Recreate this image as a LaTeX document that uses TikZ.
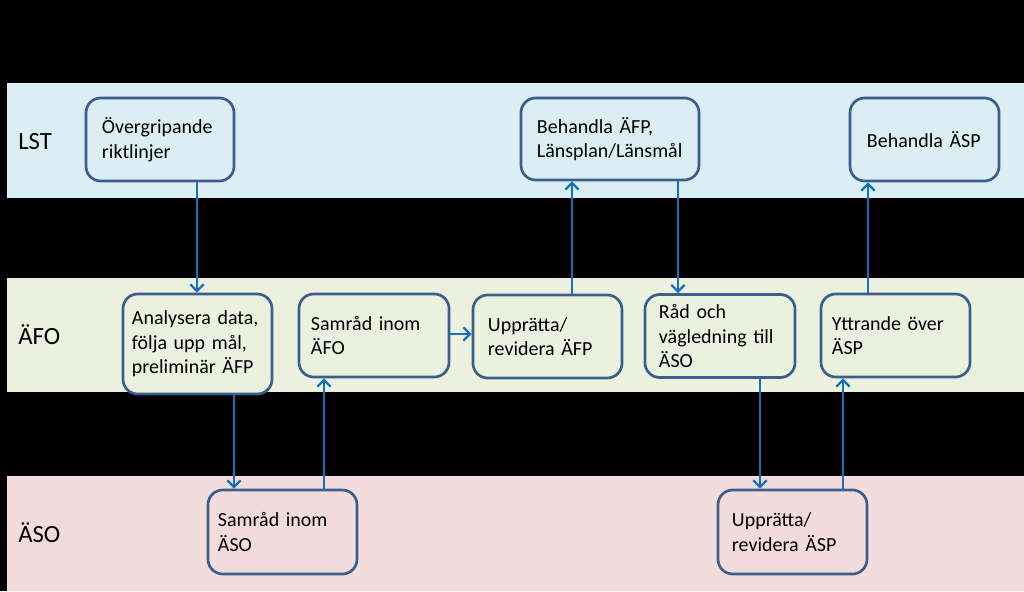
\documentclass[tikz,border=0pt]{standalone}
\usepackage{fontspec}
\setmainfont{Carlito}
\usetikzlibrary{arrows.meta}
\definecolor{lstband}{HTML}{DBEEF4}
\definecolor{afoband}{HTML}{EBF1DE}
\definecolor{asoband}{HTML}{F2DCDB}
\definecolor{boxborder}{HTML}{3B5E8C}
\definecolor{arrowblue}{HTML}{1470C0}
\begin{document}
\begin{tikzpicture}[x=0.025cm,y=-0.025cm,
  box/.style={draw=boxborder, line width=1.9pt, rounded corners=10.5pt,
    align=left, inner xsep=0pt, inner ysep=0pt,
    font=\fontsize{14.2}{17.4}\selectfont},
  lab/.style={anchor=west, inner sep=0pt, font=\fontsize{17.6}{20}\selectfont},
  arr/.style={draw=arrowblue, line width=1.6pt, -{Straight Barb[length=4.8pt,width=9.5pt]}}]
% background and bands
\fill[black] (0,0) rectangle (1024,591);
\fill[lstband] (7,83) rectangle (1024,198);
\fill[afoband] (7,278) rectangle (1024,392);
\fill[asoband] (7,476) rectangle (1024,591);
% lane labels
\node[lab] (lst) at (18,142) {LST};
\node[lab] (afo) at (18,335) {ÄFO};
\node[lab] (aso) at (18,533) {ÄSO};
% boxes
\node[box, fill=lstband, minimum width=3.7cm, minimum height=2.075cm, text width=2.9cm] (ovg) at (160,139.5) {Övergripande\\riktlinjer};
\node[box, fill=lstband, minimum width=4.45cm, minimum height=2.05cm, text width=3.65cm] (bfp) at (610,139) {Behandla~ÄFP,\\Länsplan/Länsmål};
\node[box, fill=lstband, minimum width=3.725cm, minimum height=2.075cm, text width=2.875cm] (bsp) at (924.5,139.5) {Behandla~ÄSP};
\node[box, fill=afoband, minimum width=3.725cm, minimum height=2.5cm, text width=3.275cm] (ana) at (197.5,344) {Analysera~data,\\följa~upp~mål,\\preliminär~ÄFP};
\node[box, fill=afoband, minimum width=3.75cm, minimum height=2.075cm, text width=3.15cm] (sfo) at (374,335.5) {Samråd~inom\\ÄFO};
\node[box, fill=afoband, minimum width=3.725cm, minimum height=2.075cm, text width=2.975cm] (ufp) at (547.5,336.5) {Upprätta/\\revidera~ÄFP};
\node[box, fill=afoband, minimum width=3.75cm, minimum height=2.075cm, text width=3.05cm] (rad) at (720,336) {Råd~och\\vägledning~till\\ÄSO};
\node[box, fill=afoband, minimum width=3.725cm, minimum height=2.075cm, text width=3.175cm] (ytt) at (895.5,335.5) {Yttrande~över\\ÄSP};
\node[box, fill=asoband, minimum width=3.725cm, minimum height=2.1cm, text width=3.225cm] (sso) at (282.5,532) {Samråd~inom\\ÄSO};
\node[box, fill=asoband, minimum width=3.725cm, minimum height=2.1cm, text width=3.025cm] (usp) at (792.5,532) {Upprätta/\\revidera~ÄSP};
% connector x positions
\coordinate (x1) at (197,0);
\coordinate (x2) at (234,0);
\coordinate (x3) at (324,0);
\coordinate (x5) at (572,0);
\coordinate (x6) at (678,0);
\coordinate (x7) at (760,0);
\coordinate (x8) at (843,0);
\coordinate (x9) at (868,0);
\coordinate (y4) at (0,334);
% connectors
\draw[arr] (ovg.south -| x1) -- (ana.north -| x1);
\draw[arr] (ana.south -| x2) -- (sso.north -| x2);
\draw[arr] (sso.north -| x3) -- (sfo.south -| x3);
\draw[arr] (sfo.east |- y4) -- (ufp.west |- y4);
\draw[arr] (ufp.north -| x5) -- (bfp.south -| x5);
\draw[arr] (bfp.south -| x6) -- (rad.north -| x6);
\draw[arr] (rad.south -| x7) -- (usp.north -| x7);
\draw[arr] (usp.north -| x8) -- (ytt.south -| x8);
\draw[arr] (ytt.north -| x9) -- (bsp.south -| x9);
\end{tikzpicture}
\end{document}
